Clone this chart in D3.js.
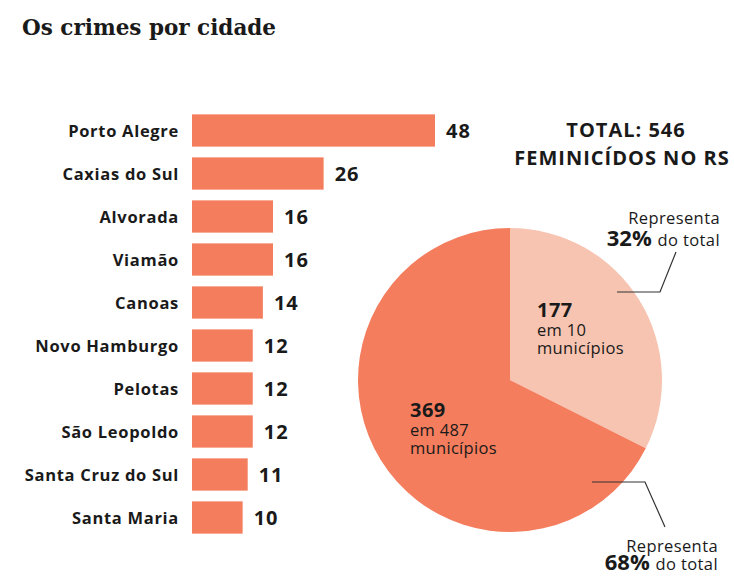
<html>
  <head>
    <meta charset="utf-8">
    <script src="https://cdn.jsdelivr.net/npm/d3@7/dist/d3.min.js"></script>
    <style>
      body { margin: 0; background: #ffffff; }
      text { font-family: "Open Sans", sans-serif; fill: #1a1a1a; }
    </style>
  </head>
  <body>
    <div id="chart"></div>
    <script>
      // bar data
      var cities = ["Porto Alegre", "Caxias do Sul", "Alvorada", "Viamão", "Canoas",
                    "Novo Hamburgo", "Pelotas", "São Leopoldo", "Santa Cruz do Sul", "Santa Maria"];
      var crimes = [48, 26, 16, 16, 14, 12, 12, 12, 11, 10];

      // pie data
      var pieValues = [177, 369];
      var pieMunicipios = [10, 487];
      var piePercent = ["32%", "68%"];
      var total = 546;

      var w = 734, h = 576;
      var bar_color = "#F47D5D";
      var light_color = "#F7C4B1";

      var svg = d3.select("#chart").append("svg")
        .attr("width", w).attr("height", h);

      svg.append("text")
        .attr("x", 22).attr("y", 35)
        .style("font-family", "DejaVu Serif")
        .attr("font-size", 21.5)
        .attr("font-weight", "bold")
        .text("Os crimes por cidade");

      //Bars
      var x = d3.scaleLinear().domain([0, 48]).range([192, 435]);
      var y = d3.scaleBand().domain(cities).range([109, 539]).paddingInner(0.25).paddingOuter(0.125);

      svg.selectAll(".bar")
        .data(cities)
        .enter()
        .append("rect")
        .attr("class", "bar")
        .attr("x", x(0))
        .attr("y", function(d){return y(d);})
        .attr("width", function(d, i){return x(crimes[i]) - x(0);})
        .attr("height", y.bandwidth())
        .attr("fill", bar_color);

      svg.selectAll(".city_label")
        .data(cities)
        .enter()
        .append("text")
        .attr("class", "city_label")
        .attr("x", 179)
        .attr("y", function(d){return y(d) + y.bandwidth()/2 + 6;})
        .attr("text-anchor", "end")
        .attr("font-size", 16.5)
        .attr("letter-spacing", 0.7)
        .attr("font-weight", "bold")
        .text(function(d){return d;});

      svg.selectAll(".val_label")
        .data(cities)
        .enter()
        .append("text")
        .attr("class", "val_label")
        .attr("x", function(d, i){return x(crimes[i]) + 11;})
        .attr("y", function(d){return y(d) + y.bandwidth()/2 + 7;})
        .attr("font-size", 20)
        .attr("letter-spacing", 1)
        .attr("font-weight", "bold")
        .text(function(d, i){return crimes[i];});

      //Total
      svg.append("text")
        .attr("x", 626).attr("y", 137)
        .attr("text-anchor", "middle")
        .attr("font-size", 20).attr("font-weight", "bold").attr("letter-spacing", 1)
        .text("TOTAL: " + total);
      svg.append("text")
        .attr("x", 622).attr("y", 165)
        .attr("text-anchor", "middle")
        .attr("font-size", 20).attr("font-weight", "bold").attr("letter-spacing", 1)
        .text("FEMINICÍDOS NO RS");

      //Pie
      var cx = 510, cy = 380, r = 152;
      var pie = d3.pie().sort(null)(pieValues);
      var arc = d3.arc().innerRadius(0).outerRadius(r);
      var g = svg.append("g").attr("transform", "translate(" + cx + "," + cy + ")");
      g.selectAll("path")
        .data(pie)
        .enter()
        .append("path")
        .attr("d", arc)
        .attr("fill", function(d, i){return i == 0 ? light_color : bar_color;});

      // slice labels
      var slice_pos = [[537, 317], [410, 417]];
      pie.forEach(function(d, i){
        var px = slice_pos[i][0], py = slice_pos[i][1];
        svg.append("text").attr("x", px).attr("y", py)
          .attr("font-size", 20).attr("font-weight", "bold").attr("letter-spacing", 0.5)
          .text(pieValues[i]);
        svg.append("text").attr("x", px).attr("y", py + 19)
          .attr("font-size", 16.5).attr("letter-spacing", 0.3)
          .text("em " + pieMunicipios[i]);
        svg.append("text").attr("x", px).attr("y", py + 37)
          .attr("font-size", 16.5).attr("letter-spacing", 0.3)
          .text("municípios");
      });

      // leader lines
      var leaders = [
        [[617, 292], [660, 292], [676, 252]],
        [[592, 482], [645, 482], [665, 527]]
      ];
      svg.selectAll(".leader")
        .data(leaders)
        .enter()
        .append("path")
        .attr("class", "leader")
        .attr("d", d3.line())
        .attr("fill", "none")
        .attr("stroke", "#333333")
        .attr("stroke-width", 1.2);

      var notes = [[720, 224, 246], [718, 552, 570]];
      notes.forEach(function(n, i){
        svg.append("text").attr("x", n[0]).attr("y", n[1]).attr("text-anchor", "end")
          .attr("font-size", 16.5).attr("letter-spacing", 0.4).text("Representa");
        var t = svg.append("text").attr("x", n[0]).attr("y", n[2]).attr("text-anchor", "end");
        t.append("tspan").attr("font-size", 22).attr("font-weight", "bold").text(piePercent[i] + " ");
        t.append("tspan").attr("font-size", 16.5).attr("letter-spacing", 0.4).text("do total");
      });
    </script>
  </body>
</html>
